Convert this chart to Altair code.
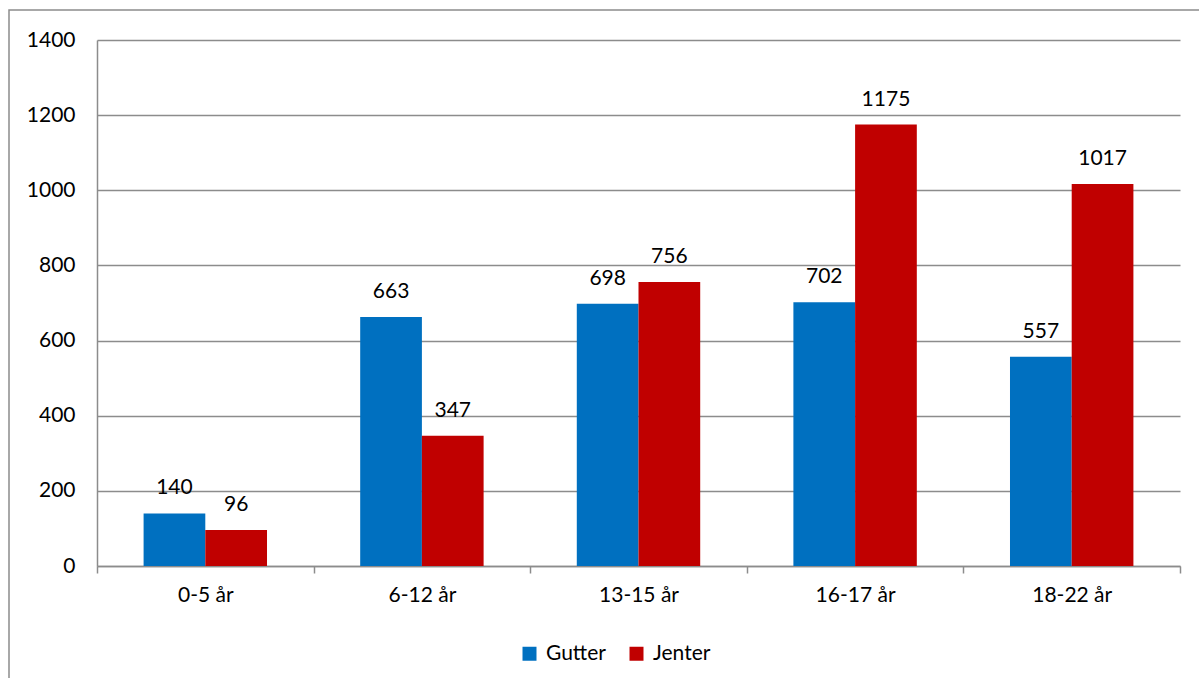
import altair as alt
import pandas as pd

ages = ["0-5 år", "6-12 år", "13-15 år", "16-17 år", "18-22 år"]
series = ["Gutter", "Jenter"]
gutter = [140, 663, 698, 702, 557]
jenter = [96, 347, 756, 1175, 1017]
colors = ["#0070C0", "#C00000"]
y_ticks = [0, 200, 400, 600, 800, 1000, 1200, 1400]

rows = []
for a, g, j in zip(ages, gutter, jenter):
    rows.append({"age": a, "sex": "Gutter", "value": g})
    rows.append({"age": a, "sex": "Jenter", "value": j})
df = pd.DataFrame(rows)

FONT = "Lato"
FS = 21
GRID = "#8c8c8c"

x_enc = alt.X(
    "age:N", sort=ages,
    scale=alt.Scale(paddingInner=0, paddingOuter=0),
    axis=alt.Axis(title=None, labelAngle=0, tickBand="extent", tickSize=7,
                  tickColor=GRID, tickWidth=1.5, domainColor=GRID, domainWidth=1.5,
                  labelPadding=11, grid=False),
)
xoff = alt.XOffset("sex:N", sort=series,
                   scale=alt.Scale(paddingInner=0, paddingOuter=0.755))
y_enc = alt.Y(
    "value:Q",
    scale=alt.Scale(domain=[0, 1400], nice=False),
    axis=alt.Axis(title=None, values=y_ticks, format="d", ticks=False, labelPadding=22,
                  grid=True, gridColor=GRID, gridWidth=1.5,
                  domainColor=GRID, domainWidth=1.5),
)

border = alt.Chart(pd.DataFrame({"k": [0]})).mark_rect(
    filled=False, stroke="#8c8c8c", strokeWidth=1.5
).encode(
    x=alt.value(-88), x2=alt.value(1130), y=alt.value(-30), y2=alt.value(670)
)

bars = alt.Chart(df).mark_bar().encode(
    x=x_enc, xOffset=xoff, y=y_enc,
    color=alt.Color(
        "sex:N", sort=series,
        scale=alt.Scale(domain=series, range=colors),
        legend=alt.Legend(title=None, orient="none", legendX=422, legendY=603,
                          direction="horizontal", symbolType="square",
                          symbolSize=196, symbolStrokeWidth=0, labelOffset=6,
                          columnPadding=20, labelFont=FONT, labelFontSize=FS,
                          labelColor="#000"),
    ),
)

labels = alt.Chart(df).mark_text(
    dy=-19, baseline="alphabetic", align="center", font=FONT, fontSize=FS, color="#000"
).encode(
    x=alt.X("age:N", sort=ages), xOffset=alt.XOffset("sex:N", sort=series),
    y=alt.Y("value:Q"), text=alt.Text("value:Q"),
)

chart = alt.layer(border, bars, labels).properties(
    width=1083, height=526,
    autosize=alt.AutoSizeParams(type="none"),
    padding={"left": 97, "top": 40, "right": 19, "bottom": 112},
    background="white",
).configure_view(stroke="transparent").configure_axis(
    labelFont=FONT, labelFontSize=FS, labelColor="#000"
)

chart.save("out.html", embed_options={"renderer": "svg", "actions": False})
